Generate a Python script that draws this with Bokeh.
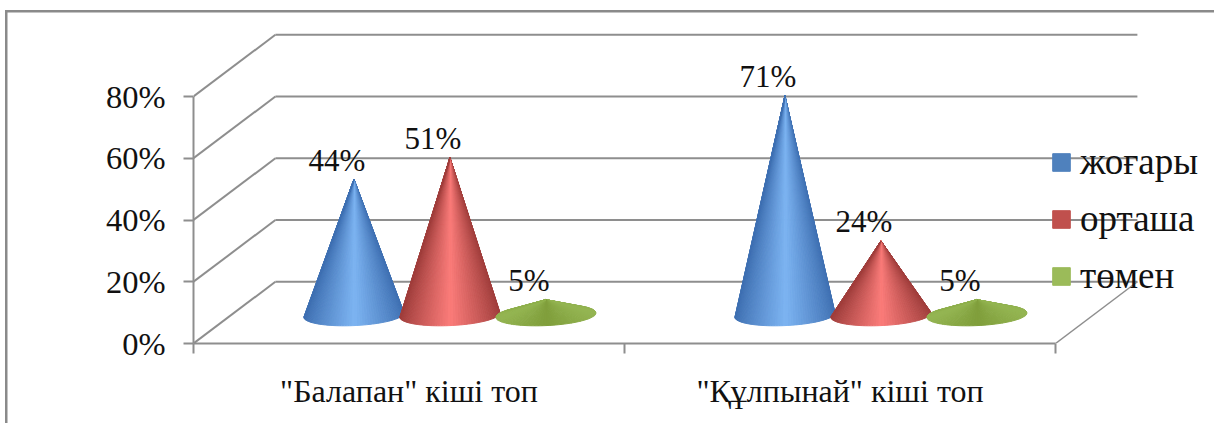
import math
from bokeh.embed import file_html
from bokeh.resources import INLINE
from bokeh.plotting import figure
from bokeh.models import (Range1d, FixedTicker, LinearAxis, Legend, LegendItem,
                          ColumnDataSource)
from bokeh.core.properties import value

# ---- data ----
categories = ['"Балапан" кіші топ', '"Құлпынай" кіші топ']
series_names = ["жоғары", "орташа", "төмен"]
high = [44, 71]
medium = [51, 24]
low = [5, 5]
y_ticks = [0, 20, 40, 60, 80]
y_tick_labels = ["0%", "20%", "40%", "60%", "80%"]
swatch_colors = ["#4f81bd", "#c0504d", "#9bbb59"]
edge_colors = ["#3f70b2", "#a03e3c", "#94b552"]
mid_colors = ["#7db4f2", "#fb7c7a", "#7f9e3a"]

# ---- layout constants ----
FONT = "Liberation Serif"
GRID = "#8e8e8e"
DX, DY = 0.19, 20          # depth of the 3-D box, in x and y data units
BASE = 9.2                 # floor height of cone base centre
RX, RY = 0.116, 3.4        # radii of the base ellipse
SHEAR = 0.7                # slight tilt of the base ellipse
OFFSET = 0.2227            # distance between series in a group
N = 60                     # slices per cone


def mix(c1, c2, t):
    a = [int(c1[i:i + 2], 16) for i in (1, 3, 5)]
    b = [int(c2[i:i + 2], 16) for i in (1, 3, 5)]
    return "#%02x%02x%02x" % tuple(round(a[k] + (b[k] - a[k]) * t) for k in range(3))


p = figure(width=1209, height=413, x_range=Range1d(0, 1021 / 431),
           y_range=Range1d(0, 331 / 3.0875), output_backend="svg",
           toolbar_location=None, min_border_left=188, min_border_right=0,
           min_border_top=2, min_border_bottom=80, x_axis_type=None, y_axis_type=None,
           margin=(10, 0, 0, 5))
p.outline_line_color = None
p.grid.visible = False
p.background_fill_color = None
p.border_fill_color = None
# outer chart border: top and left edges only
p.styles = {"box-shadow": "inset 2.5px 2.5px 0 #8a8a8a"}

# axes
yaxis = LinearAxis(ticker=FixedTicker(ticks=y_ticks), bounds=(0, 80),
                   major_label_overrides=dict(zip(y_ticks, y_tick_labels)))
yaxis.axis_line_color = GRID
yaxis.axis_line_width = 2
yaxis.major_tick_line_color = GRID
yaxis.major_tick_line_width = 2
yaxis.major_tick_out = 10
yaxis.major_tick_in = 0
yaxis.minor_tick_line_color = None
yaxis.major_label_standoff = 18
yaxis.major_label_text_font = FONT
yaxis.major_label_text_font_size = "32.5px"
yaxis.major_label_text_color = "#111111"
p.add_layout(yaxis, "left")

group_ticks = [i + 0.5 for i in range(len(categories))]
edge_ticks = list(range(len(categories) + 1))
xaxis = LinearAxis(ticker=FixedTicker(ticks=group_ticks, minor_ticks=edge_ticks), bounds=(0, 2),
                   major_label_overrides=dict(zip(group_ticks, categories)))
xaxis.axis_line_color = GRID
xaxis.axis_line_width = 2
xaxis.major_tick_line_color = None
xaxis.major_tick_out = 10
xaxis.major_tick_in = 0
xaxis.minor_tick_line_color = GRID
xaxis.minor_tick_line_width = 2
xaxis.minor_tick_out = 10
xaxis.minor_tick_in = 0
xaxis.major_label_standoff = 19
xaxis.major_label_text_font = FONT
xaxis.major_label_text_font_size = "32px"
xaxis.major_label_text_color = "#111111"
p.add_layout(xaxis, "below")

# 3-D box lines
wall_top = [v + DY for v in y_ticks]
p.segment(x0=[DX] * 5, x1=[2 + DX] * 5, y0=wall_top, y1=wall_top, line_color=GRID, line_width=2)
p.segment(x0=[0] * 5, x1=[DX] * 5, y0=y_ticks, y1=wall_top, line_color=GRID, line_width=2)
p.segment(x0=[2], x1=[2 + DX], y0=[0], y1=[DY], line_color=GRID, line_width=1.5)


def cone(cx, val, edge, mid):
    h = val / RY
    th0 = math.asin(1 / h)
    start, span = th0, -(math.pi + 2 * th0)
    xs, ys, cols = [], [], []
    tip = BASE + val
    for i in range(N):
        t0 = start + span * i / N
        t1 = start + span * (i + 1) / N
        m = (t0 + t1) / 2
        shade = max(0.0, 1 - abs(math.cos(m))) ** 0.9
        col = mix(edge, mid, shade)
        xs.append([cx, cx + RX * math.cos(t0), cx + RX * math.cos(t1)])
        ys.append([tip,
                   BASE + RY * math.sin(t0) + SHEAR * math.cos(t0),
                   BASE + RY * math.sin(t1) + SHEAR * math.cos(t1)])
        cols.append(col)
    p.patches(xs, ys, fill_color=cols, line_color=cols, line_width=1)


label_src = {"x": [], "y": [], "t": []}
all_series = [high, medium, low]
for g in range(len(categories)):
    for s, ser in enumerate(all_series):
        cx = g + 0.5 + DX / 2 + (s - 1) * OFFSET
        cone(cx, ser[g], edge_colors[s], mid_colors[s])
        label_src["x"].append(cx)
        label_src["y"].append(BASE + ser[g])
        label_src["t"].append(f"{ser[g]}%")

p.text(x="x", y="y", text="t", source=ColumnDataSource(label_src), text_font=value(FONT),
       text_font_size="31px", text_color="#111111", text_align="center",
       text_baseline="alphabetic", x_offset=-17, y_offset=-19)

# legend (its key glyphs have data outside the visible range)
items = []
for name, col in zip(series_names, swatch_colors):
    r = p.quad(left=[-5], right=[-4], top=[-5], bottom=[-6], fill_color=col, line_color=col)
    items.append(LegendItem(label=value(name), renderers=[r]))
legend = Legend(items=items, location=(857, 46), glyph_width=22, glyph_height=22, spacing=14,
                padding=0, margin=0, label_standoff=8, background_fill_alpha=0,
                border_line_color=None, label_text_font=FONT, label_text_font_size="37px",
                label_text_color="#111111")
p.add_layout(legend)

open("out.html", "w").write(file_html(p, INLINE))
